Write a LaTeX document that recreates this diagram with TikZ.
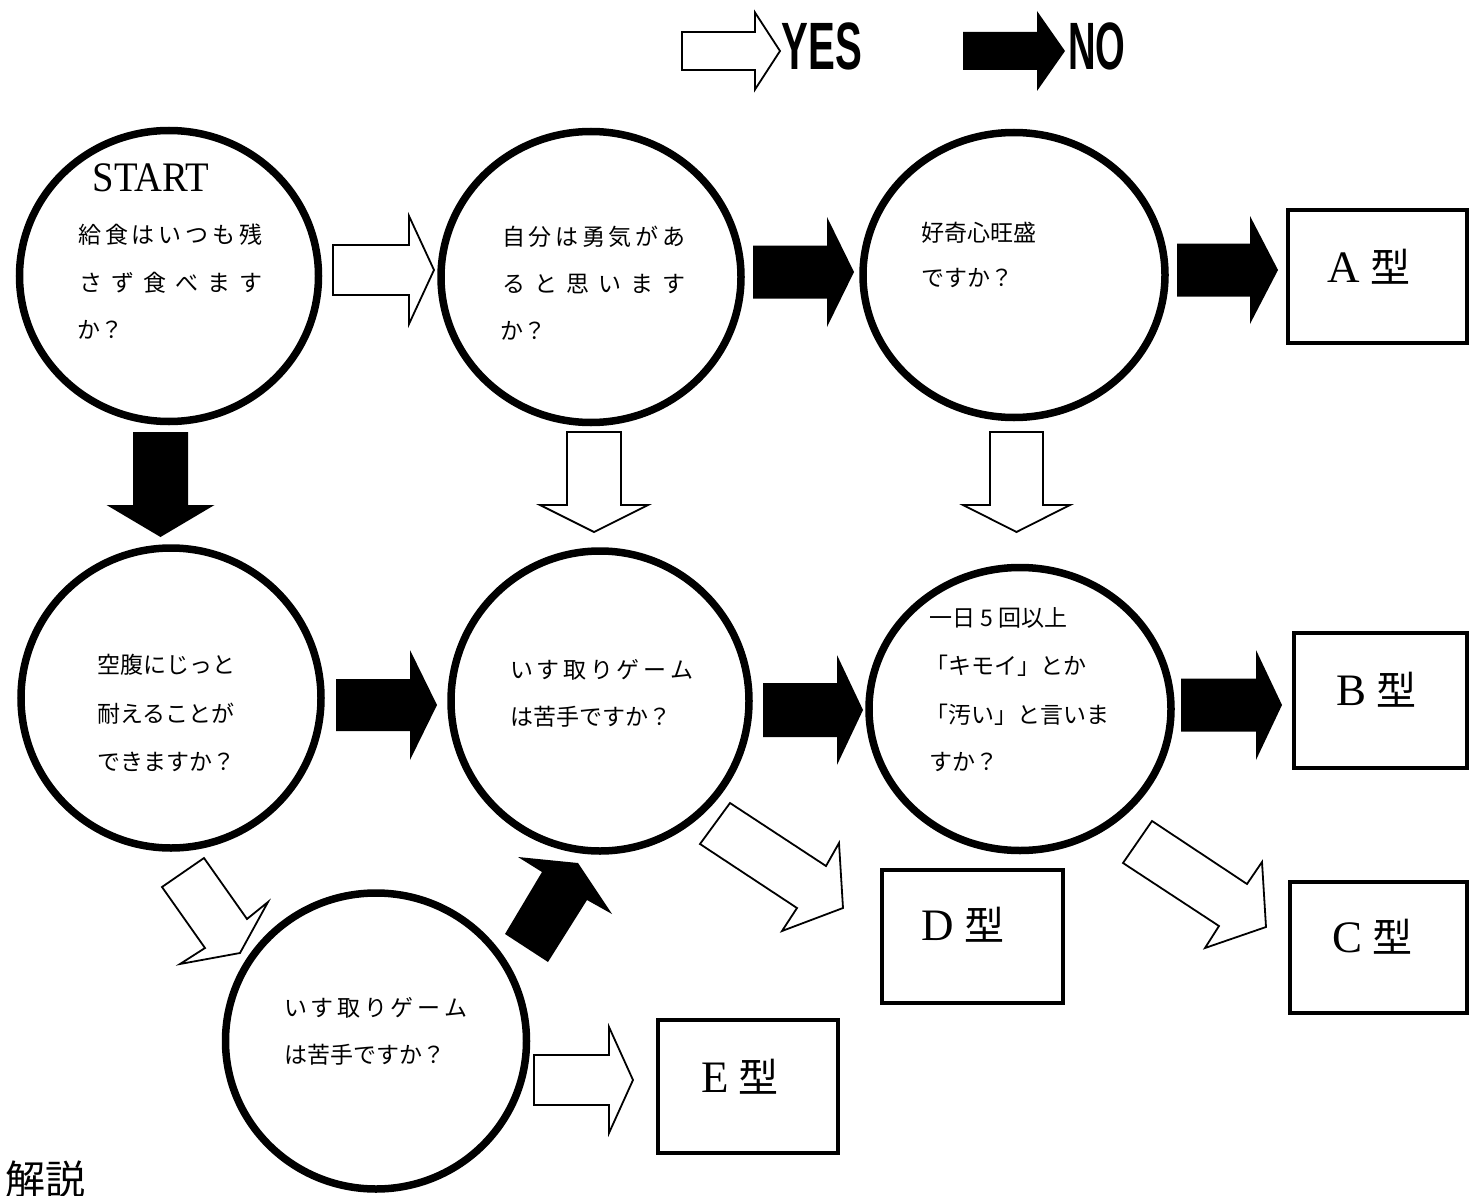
\documentclass[tikz,border=0pt]{standalone}
\usepackage{fontspec}
\usepackage{graphicx}
\newfontfamily\jp{Noto Sans CJK JP}
\newfontfamily\lsans{Liberation Sans}
\newfontfamily\lserif{Liberation Serif}
\usetikzlibrary{shapes.geometric}
\newcommand\harr[7]{\path[#1] (#2,#5-#6) -- (#3,#5-#6) -- (#3,#5-#7) -- (#4,#5) -- (#3,#5+#7) -- (#3,#5+#6) -- (#2,#5+#6) -- cycle;}
\newcommand\varr[7]{\path[#1] (#5-#6,#2) -- (#5-#6,#3) -- (#5-#7,#3) -- (#5,#4) -- (#5+#7,#3) -- (#5+#6,#3) -- (#5+#6,#2) -- cycle;}
\newcommand\spr[2]{\makebox[#1pt][s]{#2}}
\newcommand\typelabel[1]{#1\hspace{10pt}{\jp\fontsize{40}{40}\selectfont 型}}
\begin{document}
\begin{tikzpicture}[x=1pt,y=-1pt,
  qcircle/.style={ellipse, draw, line width=7.5pt, inner sep=0pt},
  tbox/.style={draw, line width=4pt},
  yesarrow/.style={draw, line width=1.8pt, fill=white, line join=miter},
  noarrow/.style={fill=black},
  qtext/.style={anchor=west, inner sep=0pt, text height=0.88em, text depth=0.12em, font=\jp\fontsize{23}{23}\selectfont},
  tlabel/.style={inner sep=0pt, font=\lserif\fontsize{45}{45}\selectfont},
]
\useasboundingbox (0,0) rectangle (1470,1196);
\fill[white] (0,0) rectangle (1470,1196);

% legend
\harr{yesarrow}{682}{755}{780}{51}{19}{38.5}
\node[inner sep=0pt] (yes) at (822,46) {\scalebox{0.6}[1]{\lsans\bfseries\fontsize{67}{67}\selectfont YES}};
\harr{noarrow}{963}{1037}{1065}{51}{19}{40}
\node[inner sep=0pt] (no) at (1097,46) {\scalebox{0.57}[1]{\lsans\bfseries\fontsize{67}{67}\selectfont NO}};

% circles
\node[qcircle, minimum width=299pt, minimum height=291pt] (q1) at (169,276) {};
\node[qcircle, minimum width=300pt, minimum height=291pt] (q2) at (591,277) {};
\node[qcircle, minimum width=302pt, minimum height=285pt] (q3) at (1014,275) {};
\node[qcircle, minimum width=300pt, minimum height=300pt] (q4) at (171,698) {};
\node[qcircle, minimum width=298pt, minimum height=300pt] (q5) at (600,701) {};
\node[qcircle, minimum width=302pt, minimum height=283pt] (q6) at (1020,709) {};
\node[qcircle, minimum width=301pt, minimum height=296pt] (q7) at (376,1041) {};

% circle texts
\node[inner sep=0pt] (start) at (151,178) {\scalebox{0.92}[1]{\lserif\fontsize{42}{42}\selectfont START}};
\node[qtext] (t11) at (78,240) {\spr{184}{給\hfil 食\hfil は\hfil い\hfil つ\hfil も\hfil 残}};
\node[qtext] (t12) at (79,288) {\spr{183}{さ\hfil ず\hfil 食\hfil べ\hfil ま\hfil す}};
\node[qtext] (t13) at (77,335) {か？};

\node[qtext] (t21) at (502,242) {\spr{183}{自\hfil 分\hfil は\hfil 勇\hfil 気\hfil が\hfil あ}};
\node[qtext] (t22) at (502,289) {\spr{183}{る\hfil と\hfil 思\hfil い\hfil ま\hfil す}};
\node[qtext] (t23) at (500,336) {か？};

\node[qtext] (t31) at (921,238) {好奇心旺盛};
\node[qtext] (t32) at (921,283) {ですか？};

\node[qtext] (t41) at (97,670) {空腹にじっと};
\node[qtext] (t42) at (97,719) {耐えることが};
\node[qtext] (t43) at (97,767) {できますか？};

\node[qtext] (t51) at (510,675) {\spr{183}{い\hfil す\hfil 取\hfil り\hfil ゲ\hfil ー\hfil ム}};
\node[qtext] (t52) at (510,722) {は苦手ですか？};

\node[qtext] (t61) at (929,623) {一日 5 回以上};
\node[qtext] (t62) at (925,671) {「キモイ」とか};
\node[qtext] (t63) at (925,720) {「汚い」と言いま};
\node[qtext] (t64) at (929,767) {すか？};

\node[qtext] (t71) at (284,1013) {\spr{183}{い\hfil す\hfil 取\hfil り\hfil ゲ\hfil ー\hfil ム}};
\node[qtext] (t72) at (284,1060) {は苦手ですか？};

% result boxes
\draw[tbox] (1288,210) rectangle (1467,343);
\node[tlabel] (ra) at (1369,267) {\typelabel{A}};
\draw[tbox] (1294,633) rectangle (1467,768);
\node[tlabel] (rb) at (1376,690) {\typelabel{B}};
\draw[tbox] (1290,882) rectangle (1467,1013);
\node[tlabel] (rc) at (1372,937) {\typelabel{C}};
\draw[tbox] (882,870) rectangle (1063,1003);
\node[tlabel] (rd) at (963,925) {\typelabel{D}};
\draw[tbox] (658,1020) rectangle (838,1153);
\node[tlabel] (re) at (740,1077) {\typelabel{E}};

% horizontal arrows
\harr{yesarrow}{333}{409}{434}{270}{25}{54}
\harr{noarrow}{753}{827}{854}{272}{26.5}{55}
\harr{noarrow}{1177}{1250}{1278}{270}{26.5}{54}
\harr{noarrow}{336}{410}{437}{705}{26}{55}
\harr{noarrow}{763}{837}{863}{710}{27}{55}
\harr{noarrow}{1181}{1256}{1282}{705}{26.5}{55}
\harr{yesarrow}{534}{609}{633}{1080}{25}{53}

% vertical arrows
\varr{noarrow}{432}{505}{537}{160.5}{27.5}{54}
\varr{yesarrow}{432}{505}{532}{594}{27}{54}
\varr{yesarrow}{432}{505}{532}{1016.5}{26.5}{53.5}

% diagonal arrows
\path[yesarrow] (730,803) -- (700,844) -- (797,908) -- (782,931) -- (843,908) -- (839,843) -- (826,866) -- cycle;
\path[yesarrow] (1152,821) -- (1123,863) -- (1219,926) -- (1205,948) -- (1266,927) -- (1262,862) -- (1247,884) -- cycle;
\path[yesarrow] (204,858) -- (162,887) -- (205,948) -- (180,964) -- (240,953) -- (268,902) -- (247,919) -- cycle;
\path[noarrow] (505,934) -- (548,962) -- (587,900) -- (612,914) -- (578,863) -- (518,857) -- (542,872) -- cycle;

% footer
\node[anchor=base west, inner sep=0pt, font=\jp\fontsize{40}{40}\selectfont] (kaisetsu) at (5,1194) {解説};
\end{tikzpicture}
\end{document}
